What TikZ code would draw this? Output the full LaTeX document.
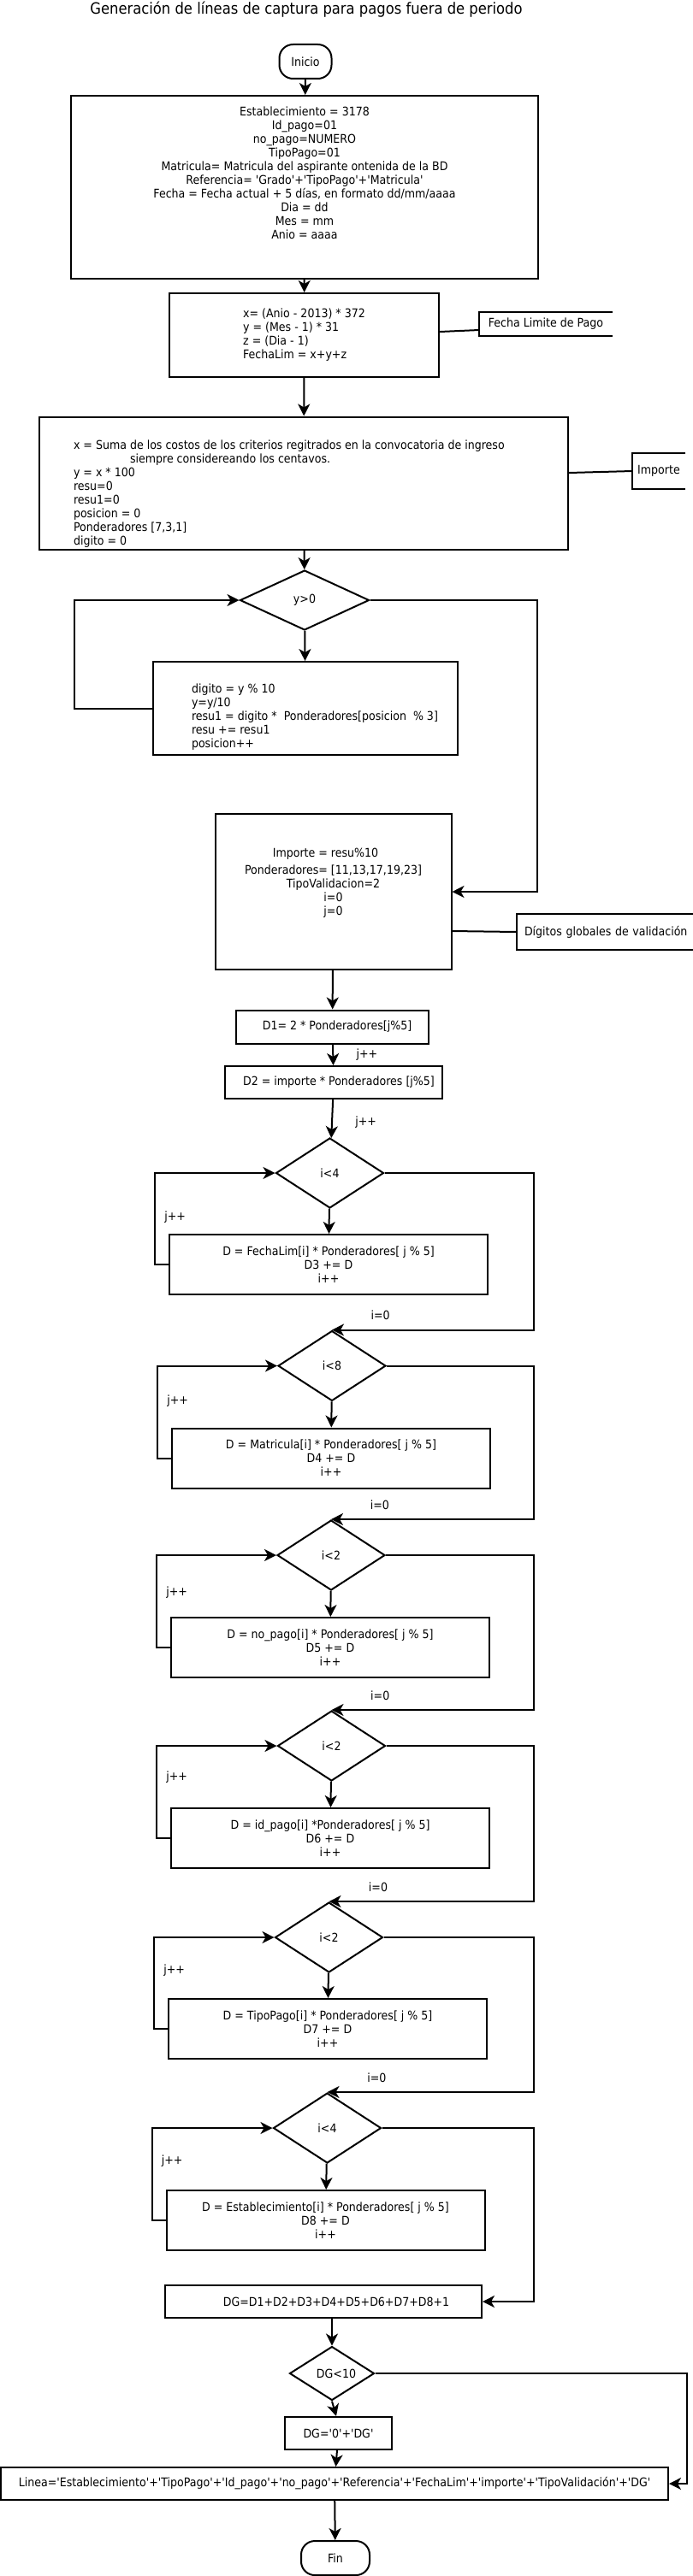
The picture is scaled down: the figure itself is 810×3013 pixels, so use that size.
\documentclass[tikz,border=0pt]{standalone}
\usepackage{fontspec}
\setmainfont{DejaVu Sans}[FakeStretch=0.9,Ligatures=TeXOff]
\usetikzlibrary{shapes.geometric,arrows.meta,positioning}

\begin{document}
\begin{tikzpicture}[>={Stealth[length=14pt,width=14pt,inset=4pt]},x=1pt,y=-1pt,line width=2pt,
    font=\fontsize{14}{16}\selectfont,
    caja/.style={rectangle,draw,inner sep=0pt,align=center},
    proceso/.style={caja,minimum width=372pt,minimum height=70pt},
    decision/.style={diamond,draw,inner sep=0pt,aspect=1.5},
    ciclo/.style={decision,minimum width=126pt,minimum height=82pt},
    terminal/.style={rectangle,draw,rounded corners=16pt,minimum height=40pt},
    nota/.style={inner sep=0pt,minimum height=40pt},
    texto/.style={inner sep=0pt,align=left}]

  \useasboundingbox (0,0) rectangle (810,3013);

  \node (titulo) at (358,11.5) {\fontsize{18.2}{20}\selectfont Generación de líneas de captura para pagos fuera de periodo};

  % inicio y datos de entrada
  \node[terminal, minimum width=61pt] (inicio) at (357,72) {Inicio};
  \node[caja, minimum width=546pt, minimum height=214pt] (datos) [node distance=147pt, below of = inicio, xshift=-1pt] {};
  \node[texto, align=center, anchor=north] (datosT) at ([yshift=-12.5pt]datos.north) {Establecimiento = 3178\\ Id\_pago=01\\ no\_pago=NUMERO\\ TipoPago=01\\ Matricula= Matricula del aspirante ontenida de la BD\\ Referencia= 'Grado'+'TipoPago'+'Matricula'\\ Fecha = Fecha actual + 5 días, en formato dd/mm/aaaa\\ Dia = dd\\ Mes = mm\\ Anio = aaaa};
  \node[caja, minimum width=315pt, minimum height=98pt, align=left] (fecha) [node distance=173pt, below of = datos, xshift=-0.5pt] {x= (Anio - 2013) * 372\\ y = (Mes - 1) * 31\\ z = (Dia - 1)\\ FechaLim = x+y+z};
  \node[caja, minimum width=618pt, minimum height=155pt] (suma) [node distance=173pt, below of = fecha, xshift=-0.5pt] {};
  \node[texto, anchor=north west] (sumaT) at ([xshift=40pt, yshift=-27.5pt]suma.north west) {x = Suma de los costos de los criterios regitrados en la convocatoria de ingreso\\ \hspace*{66pt}siempre considereando los centavos.\\ y = x * 100\\ resu=0\\ resu1=0\\ posicion = 0\\ Ponderadores [7,3,1]\\ digito = 0};

  % importe
  \node[decision, minimum width=151pt, minimum height=70pt] (ymayor) [node distance=137pt, below of = suma, xshift=1pt] {y>0};
  \node[caja, minimum width=356pt, minimum height=109pt] (digito) [node distance=126.5pt, below of = ymayor, xshift=1pt] {};
  \node[texto, anchor=north west] (digitoT) at ([xshift=45pt, yshift=-25.5pt]digito.north west) {digito = y \% 10\\ y=y/10\\ resu1 = digito *\ \ Ponderadores[posicion\ \ \% 3]\\ resu += resu1\\ posicion++};
  \node[caja, minimum width=276pt, minimum height=182pt] (importe) [node distance=214.5pt, below of = digito, xshift=32.5pt] {};
  \node[texto, align=center, anchor=north] (importeT) at ([yshift=-40.5pt]importe.north) {Importe = resu\%10\hspace*{18pt}\\[4pt] Ponderadores= [11,13,17,19,23]\\ TipoValidacion=2\\ i=0\\ j=0};

  % digitos de validacion
  \node[caja, minimum width=225pt, minimum height=39pt] (d1) [node distance=158pt, below of = importe, xshift=-1pt] {\hspace*{11pt}D1= 2 * Ponderadores[j\%5]};
  \node[caja, minimum width=254pt, minimum height=38pt] (d2) [node distance=65pt, below of = d1, xshift=1.5pt] {\hspace*{12pt}D2 = importe * Ponderadores [j\%5]};
  \node[ciclo] (c1) [node distance=106pt, below of = d2, xshift=-4.5pt] {i<4};
  \node[proceso] (d3) [node distance=107pt, below of = c1, xshift=-1.5pt] {D = FechaLim[i] * Ponderadores[ j \% 5]\\ D3 += D\\ i++};
  \node[ciclo] (c2) [node distance=118.5pt, below of = d3, xshift=4pt] {i<8};
  \node[proceso] (d4) [node distance=108pt, below of = c2, xshift=-1pt] {D = Matricula[i] * Ponderadores[ j \% 5]\\ D4 += D\\ i++};
  \node[ciclo] (c3) [node distance=113.5pt, below of = d4] {i<2};
  \node[proceso] (d5) [node distance=108pt, below of = c3, xshift=-1pt] {D = no\_pago[i] * Ponderadores[ j \% 5]\\ D5 += D\\ i++};
  \node[ciclo] (c4) [node distance=115pt, below of = d5, xshift=1.5pt] {i<2};
  \node[proceso] (d6) [node distance=108pt, below of = c4, xshift=-1.5pt] {D = id\_pago[i] *Ponderadores[ j \% 5]\\ D6 += D\\ i++};
  \node[ciclo] (c5) [node distance=116pt, below of = d6, xshift=-1.5pt] {i<2};
  \node[proceso] (d7) [node distance=107pt, below of = c5, xshift=-1.5pt] {D = TipoPago[i] * Ponderadores[ j \% 5]\\ D7 += D\\ i++};
  \node[ciclo] (c6) [node distance=116pt, below of = d7, xshift=-0.5pt] {i<4};
  \node[proceso] (d8) [node distance=108pt, below of = c6, xshift=-2pt] {D = Establecimiento[i] * Ponderadores[ j \% 5]\\ D8 += D\\ i++};

  % linea de captura
  \node[caja, minimum width=370pt, minimum height=38pt] (dg) [node distance=95pt, below of = d8, xshift=-2.5pt] {\hspace*{30pt}DG=D1+D2+D3+D4+D5+D6+D7+D8+1};
  \node[decision, minimum width=99pt, minimum height=63pt] (dgc) [node distance=84pt, below of = dg, xshift=10pt] {\hspace*{10pt}DG<10};
  \node[caja, minimum width=125pt, minimum height=38pt] (dg0) [node distance=70pt, below of = dgc, xshift=7.5pt] {DG='0'+'DG'};
  \node[caja, minimum width=780pt, minimum height=38pt] (linea) [node distance=59pt, below of = dg0, xshift=-4.5pt] {Linea='Establecimiento'+'TipoPago'+'Id\_pago'+'no\_pago'+'Referencia'+'FechaLim'+'importe'+'TipoValidación'+'DG'};
  \node[terminal, minimum width=80pt] (fin) [node distance=87pt, below of = linea, xshift=1pt] {Fin};

  % notas
  \node[nota, minimum width=154pt, minimum height=26pt] (limite) [node distance=282.5pt, right of = fecha, yshift=13pt] {Fecha Limite de Pago};
  \node[nota, minimum width=60pt] (nimporte) [node distance=415pt, right of = suma, yshift=14pt] {Importe};
  \node[nota, inner xsep=8pt, text width=196pt, align=left] (digitos) [node distance=321.5pt, right of = importe, yshift=-47pt] {Dígitos globales de validación};
  \draw (limite.north east) -- (limite.north west) -- (limite.south west) -- (limite.south east);
  \draw (nimporte.north east) -- (nimporte.north west) -- (nimporte.south west) -- (nimporte.south east);
  \draw (digitos.north east) -- (digitos.north west) -- (digitos.south west) -- (digitos.south east);
  \draw ([yshift=4pt]fecha.east) -- ([yshift=-7pt]limite.west);
  \draw ([yshift=12pt]suma.east) -- (nimporte.west);
  \draw ([yshift=-46pt]importe.east) -- (digitos.west);

  % flechas
  \draw[->] (inicio) -- (datos);
  \draw[->] (datos) -- (fecha);
  \draw[->] (fecha) -- (suma);
  \draw[->] (suma) -- (ymayor);
  \draw[->] (ymayor) -- (digito);
  \draw[->] (digito.west) -- ++(-91.5,0) |- (ymayor.west);
  \draw[->] (ymayor.east) -- ++(195.5,0) |- (importe.east);
  \draw[->] (importe) -- (d1);
  \draw[->] (d1) -- node[right=23pt] {j++} (d2);
  \draw[->] (d2) -- node[right=23pt, pos=0.6] {j++} (c1);

  \foreach \c/\d/\p in {c1/d3/0.26, c2/d4/0.31, c3/d5/0.30, c4/d6/0.33, c5/d7/0.32, c6/d8/0.32}{
    \draw[->] (\c) -- (\d);
    \draw[->] (\d.west) -- ++(-16,0) |- node[right=7pt, pos=\p] {j++} (\c.west);
  }
  \coordinate (der) at (624,0);
  \foreach \c/\n in {c1/c2, c2/c3, c3/c4, c4/c5, c5/c6}{
    \draw[->] (\c.east) -- (\c.east -| der) |- node[above=7pt, pos=0.88] {i=0} (\n.north);
  }
  \draw[->] (c6.east) -- (c6.east -| der) |- (dg.east);

  \draw[->] (dgc.north |- dg.south) -- (dgc.north);
  \draw[->] (dgc.south) -- ([xshift=-2.5pt]dg0.north);
  \draw[->] (dg0) -- (linea);
  \draw[->] (dgc.east) -- ++(364.5,0) |- (linea.east);
  \draw[->] (linea) -- (fin);

\end{tikzpicture}
\end{document}
